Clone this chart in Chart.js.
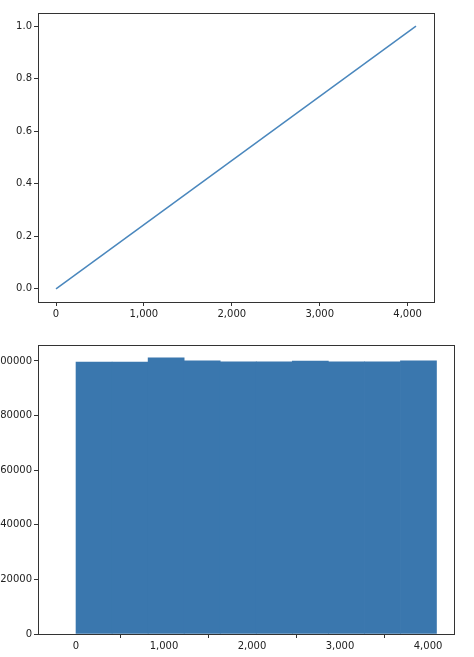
<!DOCTYPE html>
<html>
<head>
<meta charset="utf-8">
<script src="https://cdn.jsdelivr.net/npm/chart.js@4"></script>
<style>
  body { margin: 0; background: #fff; }
  .box { position: absolute; left: 0; width: 474px; }
</style>
</head>
<body>
<div class="box" style="top:0;height:320px"><canvas id="lineChart"></canvas></div>
<div class="box" style="top:330px;height:327px"><canvas id="histChart"></canvas></div>
<script>
// line: values 0..4095 mapped to 0..1
const lineX = [0, 4095];
const lineY = [0, 1];
// histogram: 10 bins over 0..4096
const binCenters = [204.8, 614.4, 1024, 1433.6, 1843.2, 2252.8, 2662.4, 3072, 3481.6, 3891.2];
const binCounts = [99600, 99600, 101200, 100100, 99700, 99700, 100000, 99700, 99700, 100100];
const lineTicks = [0, 1000, 2000, 3000, 4000];

const tickFont = { family: 'DejaVu Sans', size: 10 };

// frame around the plot area, like matplotlib spines
const frame = {
  id: 'frame',
  afterDraw(chart) {
    const a = chart.chartArea, ctx = chart.ctx;
    ctx.save();
    ctx.strokeStyle = '#333';
    ctx.lineWidth = 1;
    ctx.strokeRect(a.left + 0.5, a.top + 0.5, a.right - a.left, a.bottom - a.top);
    ctx.restore();
  }
};

function axis(extra) {
  return Object.assign({
    type: 'linear',
    grid: { drawOnChartArea: false, drawTicks: true, tickLength: 4, color: '#333' },
    border: { display: false },
    ticks: { color: '#222', font: tickFont, padding: 2 }
  }, extra);
}

new Chart(document.getElementById('lineChart'), {
  type: 'line',
  data: {
    datasets: [{
      data: lineX.map((x, i) => ({ x: x, y: lineY[i] })),
      borderColor: '#4a87bd',
      borderWidth: 1.5,
      pointRadius: 0,
      tension: 0
    }]
  },
  options: {
    responsive: true,
    maintainAspectRatio: false,
    animation: false,
    layout: { padding: { top: 13, right: 40 } },
    plugins: { legend: { display: false }, tooltip: { enabled: false } },
    scales: {
      x: axis({
        min: -205, max: 4300,
        afterBuildTicks: s => { s.ticks = lineTicks.map(v => ({ value: v })); },
        afterFit: s => { s.height = 18; }
      }),
      y: axis({
        min: -0.05, max: 1.05,
        afterBuildTicks: s => { s.ticks = [0, 0.2, 0.4, 0.6, 0.8, 1].map(v => ({ value: v })); },
        ticks: { color: '#222', font: tickFont, padding: 2, callback: v => v.toFixed(1) },
        afterFit: s => { s.width = 38; }
      })
    }
  },
  plugins: [frame]
});

new Chart(document.getElementById('histChart'), {
  type: 'bar',
  data: {
    datasets: [{
      data: binCenters.map((x, i) => ({ x: x, y: binCounts[i] })),
      backgroundColor: '#3a77ae',
      barPercentage: 1,
      categoryPercentage: 1,
      borderWidth: 0
    }]
  },
  options: {
    responsive: true,
    maintainAspectRatio: false,
    animation: false,
    layout: { padding: { top: 15, right: 20 } },
    plugins: { legend: { display: false }, tooltip: { enabled: false } },
    scales: {
      x: axis({
        min: -432, max: 4295,
        offset: false,
        afterBuildTicks: s => { s.ticks = lineTicks.map(v => ({ value: v })); },
        afterFit: s => { s.height = 23; }
      }),
      y: axis({
        min: 0, max: 105860,
        afterBuildTicks: s => { s.ticks = [0, 20000, 40000, 60000, 80000, 100000].map(v => ({ value: v })); },
        ticks: { color: '#222', font: tickFont, padding: 2, callback: v => String(v) },
        afterFit: s => { s.width = 38; }
      })
    }
  },
  plugins: [frame]
});
</script>
</body>
</html>
